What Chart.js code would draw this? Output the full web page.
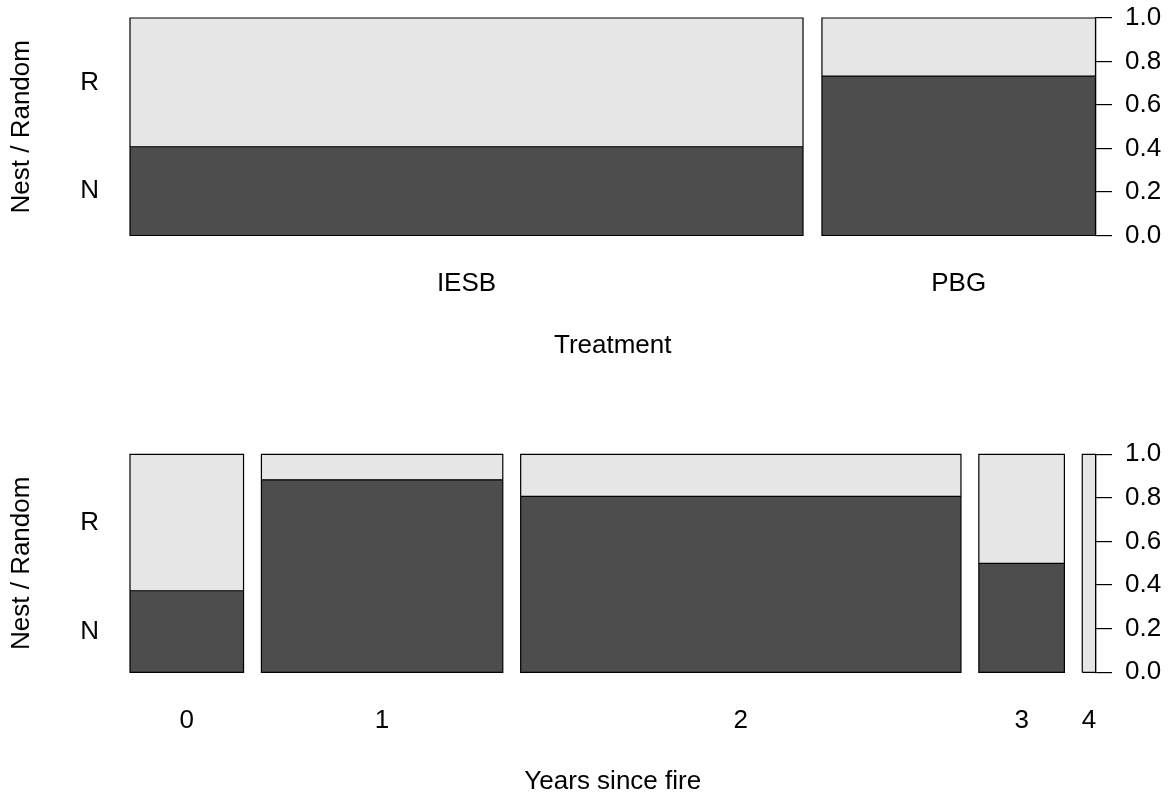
<!DOCTYPE html>
<html>
<head>
<meta charset="utf-8">
<title>Spineplots: Nest / Random</title>
<script src="https://cdn.jsdelivr.net/npm/chart.js@4/dist/chart.umd.min.js"></script>
<style>
  html, body { margin: 0; padding: 0; background: #ffffff; }
  body { width: 1174px; height: 798px; position: relative; overflow: hidden; }
  canvas { position: absolute; left: 0; }
  #top { top: 0; }
  #bottom { top: 400px; }
</style>
</head>
<body>
<canvas id="top" width="1174" height="400"></canvas>
<canvas id="bottom" width="1174" height="398"></canvas>
<script>
// Response levels (bottom segment first) and the shared proportion ticks
const responseLevels = ['N', 'R'];
const proportionTicks = [0, 0.2, 0.4, 0.6, 0.8, 1.0];

// Panel 1: treatment
const treatments = ['IESB', 'PBG'];
const treatmentShare = [0.711, 0.289];   // column widths (share of observations)
const treatmentPropN = [0.408, 0.733];   // proportion N within each column

// Panel 2: years since fire
const years = ['0', '1', '2', '3', '4'];
const yearShare = [0.127, 0.270, 0.4925, 0.0957, 0.0149];
const yearPropN = [0.374, 0.883, 0.807, 0.500, 0.000];

const OFF = 0.02;            // gap between columns, in x units
const DARK = '#4D4D4D';
const LIGHT = '#E6E6E6';
const FONT = { family: '"Liberation Sans", Arial, Helvetica, sans-serif', size: 26 };

Chart.defaults.color = '#000';
Chart.defaults.font.family = FONT.family;

// label overflow of the side axes may spill into the margins freely
const noSidePadding = s => { s.paddingTop = 0; s.paddingBottom = 0; };

function spineplot(canvasId, cats, shares, propN, xTitle, geom) {
  // column extents along the x scale
  let pos = 0;
  const cols = shares.map(s => { const c = { x0: pos, x1: pos + s }; pos += s + OFF; return c; });
  const xMax = 1 + OFF * (cats.length - 1);
  const centers = cols.map(c => (c.x0 + c.x1) / 2);

  const datasets = [];
  cols.forEach((c, i) => {
    const p = propN[i];
    // full column in the light level
    datasets.push({
      data: [{ x: c.x0, y: 1 }, { x: c.x1, y: 1 }],
      fill: 'origin', backgroundColor: LIGHT, borderWidth: 0,
      pointRadius: 0, order: 3, clip: false
    });
    // N share in the dark level
    datasets.push({
      data: [{ x: c.x0, y: p }, { x: c.x1, y: p }],
      fill: 'origin', backgroundColor: DARK, borderWidth: 0,
      pointRadius: 0, order: 2, clip: false
    });
    // column outline plus the split line
    datasets.push({
      data: [
        { x: c.x0, y: 0 }, { x: c.x0, y: 1 }, { x: c.x1, y: 1 }, { x: c.x1, y: 0 },
        { x: c.x0, y: 0 }, { x: c.x0, y: p }, { x: c.x1, y: p }
      ],
      fill: false, borderColor: '#000', borderWidth: 1.2,
      pointRadius: 0, tension: 0, order: 1, clip: false
    });
  });

  const firstP = propN[0];
  const levelCenters = [firstP / 2, (firstP + 1) / 2];

  return new Chart(document.getElementById(canvasId), {
    type: 'line',
    data: { datasets },
    options: {
      responsive: false,
      animation: false,
      devicePixelRatio: 1,
      layout: { padding: { top: geom.top, left: 0, right: 0, bottom: 0 } },
      plugins: { legend: { display: false }, tooltip: { enabled: false } },
      elements: { point: { radius: 0 } },
      scales: {
        x: {
          type: 'linear', position: 'bottom', min: 0, max: xMax,
          grid: { display: false, drawTicks: false }, border: { display: false },
          afterBuildTicks: s => { s.ticks = centers.map(v => ({ value: v })); },
          ticks: {
            autoSkip: false, maxRotation: 0, minRotation: 0, padding: 33.2,
            font: FONT, color: '#000',
            callback: (v, i) => cats[i]
          },
          title: {
            display: true, text: xTitle, font: FONT, color: '#000',
            padding: { top: 0, bottom: geom.titlePad }
          },
          afterFit: s => { s.height = geom.xAxisH; }
        },
        y: {
          type: 'linear', position: 'right', min: 0, max: 1,
          afterBuildTicks: s => { s.ticks = proportionTicks.map(v => ({ value: v })); },
          ticks: { padding: 13, font: FONT, color: '#000', callback: v => v.toFixed(1) },
          grid: { display: true, drawOnChartArea: false, drawTicks: true, tickLength: 16.5, color: '#000', lineWidth: 1.2 },
          border: { display: true, color: '#000', width: 1.2 },
          afterFit: s => { s.width = 78.5; noSidePadding(s); }
        },
        yL: {
          type: 'linear', position: 'left', min: 0, max: 1,
          afterBuildTicks: s => { s.ticks = levelCenters.map(v => ({ value: v })); },
          ticks: { padding: 31, font: FONT, color: '#000', callback: (v, i) => responseLevels[i] },
          grid: { display: false, drawTicks: false }, border: { display: false },
          title: {
            display: true, text: 'Nest / Random', font: FONT, color: '#000',
            padding: { top: 6.4, bottom: 0 }
          },
          afterFit: s => { s.width = 130; noSidePadding(s); }
        }
      }
    }
  });
}

spineplot('top', treatments, treatmentShare, treatmentPropN, 'Treatment',
  { top: 18, xAxisH: 164.5, titlePad: 38.2 });
spineplot('bottom', years, yearShare, yearPropN, 'Years since fire',
  { top: 54.3, xAxisH: 125.7, titlePad: 0.5 });
</script>
</body>
</html>
